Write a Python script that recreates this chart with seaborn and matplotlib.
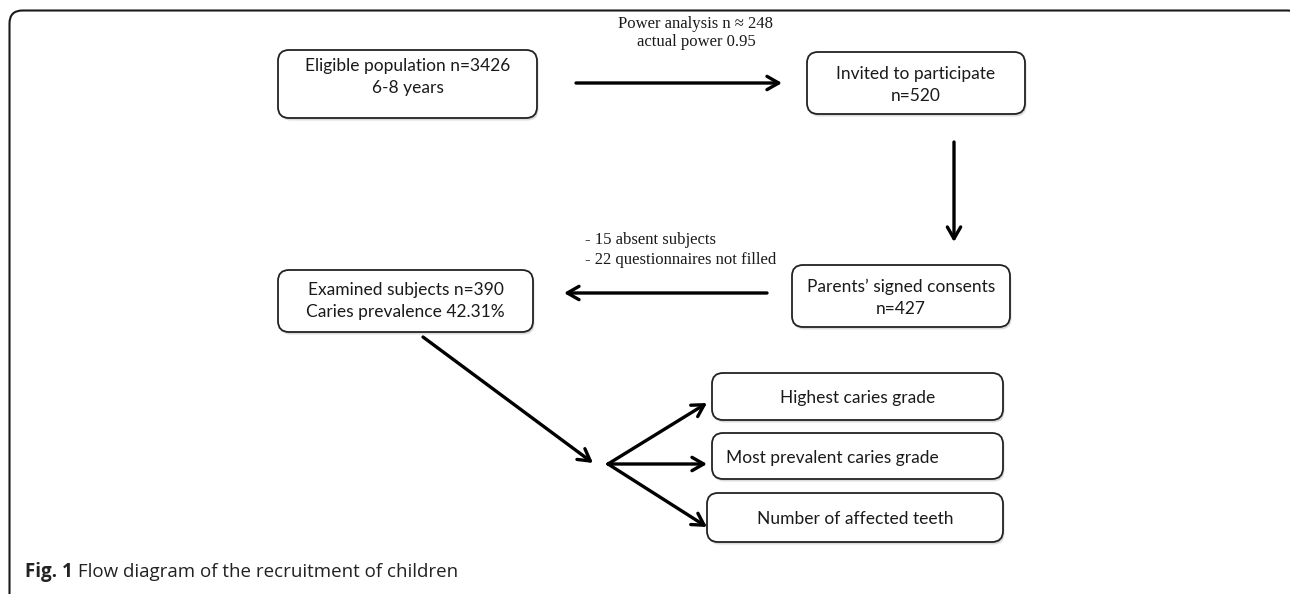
import matplotlib
matplotlib.use("Agg")
import matplotlib.pyplot as plt
import seaborn as sns
from matplotlib.patches import FancyBboxPatch

sns.set_theme(style="white")
plt.rcParams['font.family'] = ['Lato', 'DejaVu Sans']

# box labels
box_labels = [
    "Eligible population n=3426\n6-8 years",
    "Invited to participate\nn=520",
    "Parents\u2019 signed consents\nn=427",
    "Examined subjects n=390\nCaries prevalence 42.31%",
    "Highest caries grade",
    "Most prevalent caries grade",
    "Number of affected teeth",
]
# notes on the arrows
power_note = "Power analysis n \u2248 248\nactual power 0.95"
dropout_note = "- 15 absent subjects\n- 22 questionnaires not filled"
caption_bold = "Fig. 1"
caption_text = " Flow diagram of the recruitment of children"

# layout, pixel coords: (x0, y0, x1, y1) and text centre shifts
box_xy = [
    (278, 50, 537, 118),
    (807, 52, 1025, 114),
    (792, 265, 1010, 327),
    (278, 270, 533, 332),
    (712, 373, 1003, 420),
    (712, 433, 1003, 479),
    (707, 493, 1003, 542),
]
text_shift = [(0, -7), (0, 2), (0, 2), (0, 0), (0, 2), (-25, 2), (0, 2)]
arrows = [
    ((576, 83), (782, 83)),
    ((954, 142), (954, 242)),
    ((767, 293), (564, 293)),
    ((423, 337), (593, 463)),
    ((608, 464), (707, 403)),
    ((608, 464), (707, 464)),
    ((608, 464), (707, 527)),
]

fig = plt.figure(figsize=(12.9, 5.94), dpi=100)
ax = fig.add_axes([0, 0, 1, 1])
ax.set_xlim(0, 1290)
ax.set_ylim(594, 0)
ax.axis("off")

# outer frame (only the top-left part is inside the picture)
ax.add_patch(FancyBboxPatch((9.5, 10.5), 1291, 620, boxstyle="round,pad=0,rounding_size=13",
                            fill=False, ec="#1a1a1a", lw=1.5, clip_on=True))

for lab, (x0, y0, x1, y1), (dx, dy) in zip(box_labels, box_xy, text_shift):
    # soft drop shadow
    ax.add_patch(FancyBboxPatch((x0 + 1.5, y0 + 2.5), x1 - x0, y1 - y0,
                                boxstyle="round,pad=0,rounding_size=11",
                                fc="#c4c4c4", ec="none", alpha=0.6, zorder=1))
    ax.add_patch(FancyBboxPatch((x0, y0), x1 - x0, y1 - y0,
                                boxstyle="round,pad=0,rounding_size=11",
                                fc="white", ec="#222222", lw=1.3, zorder=2))
    ax.text((x0 + x1) / 2 + dx, (y0 + y1) / 2 + dy, lab, ha="center", va="center",
            fontsize=12.5, color="#1a1a1a", linespacing=1.45, zorder=3)

for (s, e) in arrows:
    ax.annotate("", xy=e, xytext=s,
                arrowprops=dict(arrowstyle="->,head_length=0.7,head_width=0.4",
                                lw=2.4, color="black", shrinkA=0, shrinkB=0))

serif = ["Liberation Serif", "DejaVu Serif"]
ax.text(696, 33, power_note, ha="center", va="center", fontsize=12,
        family=serif, linespacing=1.15, color="#1a1a1a")
ax.text(585, 250, dropout_note, ha="left", va="center", fontsize=12,
        family=serif, linespacing=1.3, color="#1a1a1a")

t = ax.text(25, 572, caption_bold, ha="left", va="center", fontsize=13.5,
            fontweight="bold", family=["Open Sans", "DejaVu Sans"], color="#222222")
ax.annotate(caption_text, xy=(1, 0.5), xycoords=t, ha="left", va="center",
            fontsize=13.5, family=["Open Sans", "DejaVu Sans"], color="#222222")

fig.savefig("out.png", dpi=100)
